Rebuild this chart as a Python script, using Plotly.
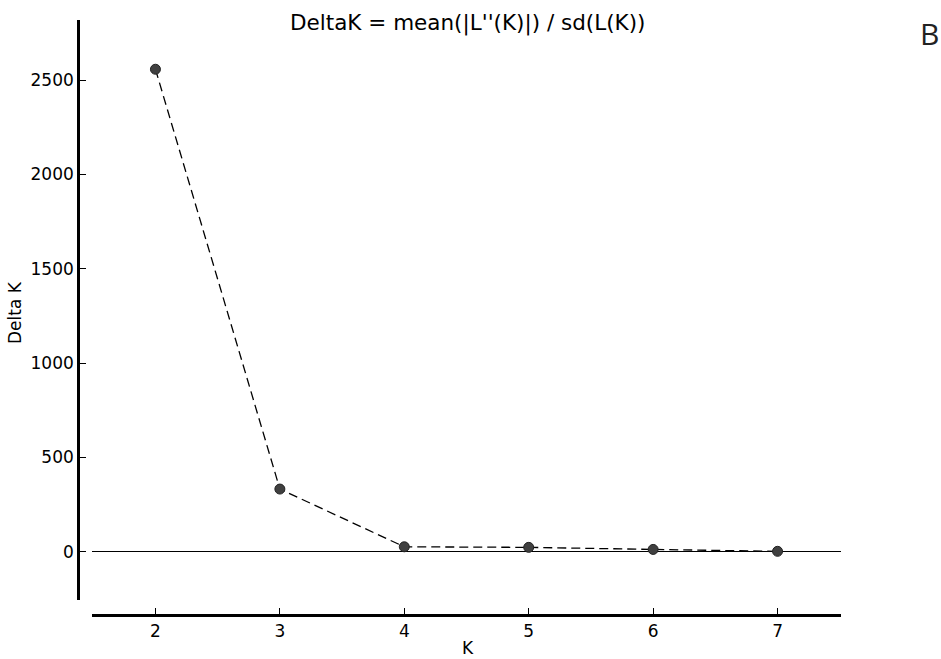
import plotly.graph_objects as go

# Data
k_values = [2, 3, 4, 5, 6, 7]
delta_k = [2557, 332, 26, 23, 12, 2]
y_ticks = [0, 500, 1000, 1500, 2000, 2500]
x_ticks = [2, 3, 4, 5, 6, 7]

title_text = "DeltaK = mean(|L''(K)|) / sd(L(K))"
x_title = "K"
y_title = "Delta K"
panel_label = "B"

W, H = 941, 659
ML, MR, MT, MB = 78, 100, 20, 44
PW = W - ML - MR
PH = H - MT - MB


def px_x(p):
    return (p - ML) / PW


def px_y(q):
    return (H - MB - q) / PH


FONT = "DejaVu Sans"

fig = go.Figure()
fig.add_trace(go.Scatter(
    x=k_values, y=delta_k, mode="lines+markers",
    line=dict(color="black", width=1.3, dash="9px,5px"),
    marker=dict(size=10, color="#404040", line=dict(color="#222222", width=1)),
    showlegend=False, cliponaxis=False,
))

fig.update_layout(
    width=W, height=H,
    margin=dict(l=ML, r=MR, t=MT, b=MB),
    paper_bgcolor="white", plot_bgcolor="white",
    font=dict(family=FONT, size=17, color="black"),
    xaxis=dict(
        domain=[px_x(92), 1], range=[1.49, 7.51],
        anchor="free", position=0,
        showline=True, linecolor="black", linewidth=2.6,
        ticks="inside", ticklen=6, tickwidth=1, tickcolor="black",
        tickvals=x_ticks, showgrid=False, zeroline=False,
        tickfont=dict(size=17, family=FONT),
    ),
    yaxis=dict(
        domain=[px_y(600), 1], range=[-256, 2818],
        anchor="free", position=0,
        showline=True, linecolor="black", linewidth=2.6,
        ticks="inside", ticklen=6, tickwidth=1, tickcolor="black",
        tickvals=y_ticks, showgrid=False,
        zeroline=True, zerolinecolor="black", zerolinewidth=1,
        tickfont=dict(size=17, family=FONT),
    ),
    annotations=[
        dict(text=title_text, xref="paper", yref="paper", x=px_x(467.5), y=px_y(23),
             xanchor="center", yanchor="middle", showarrow=False,
             font=dict(size=21.5, family=FONT)),
        dict(text=x_title, xref="paper", yref="paper", x=px_x(467.5), y=px_y(648),
             xanchor="center", yanchor="middle", showarrow=False,
             font=dict(size=17, family=FONT)),
        dict(text=y_title, xref="paper", yref="paper", x=px_x(15), y=px_y(313),
             xanchor="center", yanchor="middle", showarrow=False, textangle=-90,
             font=dict(size=17, family=FONT)),
        dict(text=panel_label, xref="paper", yref="paper", x=px_x(929.5), y=px_y(33.5),
             xanchor="center", yanchor="middle", showarrow=False,
             font=dict(size=30, family="Open Sans", color="#222222")),
    ],
)

fig.write_html(
    "out.html",
    config={"displayModeBar": False},
    post_script="document.body.style.margin='0';document.body.style.overflow='hidden';",
)
